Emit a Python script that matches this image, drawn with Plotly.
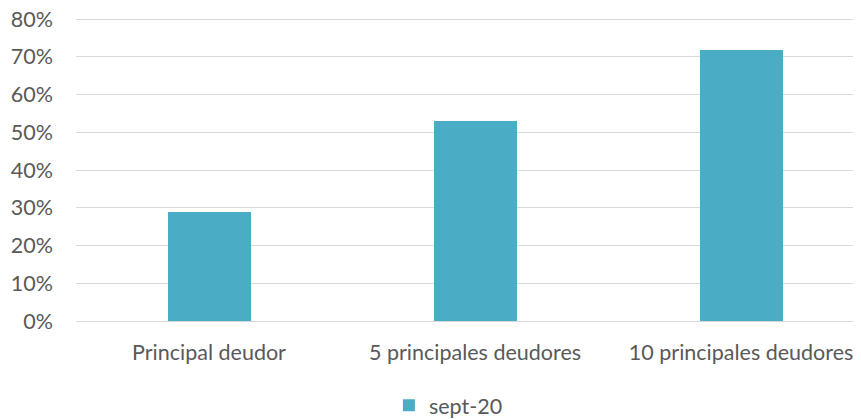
import plotly.graph_objects as go

categories = ["Principal deudor", "5 principales deudores", "10 principales deudores"]
values = [0.29, 0.53, 0.717]
series_name = "sept-20"
tick_vals = [0, 0.1, 0.2, 0.3, 0.4, 0.5, 0.6, 0.7, 0.8]
tick_text = ["0%", "10%", "20%", "30%", "40%", "50%", "60%", "70%", "80%"]

FS = 21.5
fig = go.Figure()
fig.add_trace(go.Bar(
    x=[0, 1, 2], y=values, name=series_name,
    marker=dict(color="#4BACC6", line=dict(width=0)),
    width=0.312, showlegend=True,
))
fig.update_layout(
    width=861, height=419,
    margin=dict(l=68, r=9, t=10, b=106, autoexpand=False),
    paper_bgcolor="white", plot_bgcolor="white",
    font=dict(family="Lato, Carlito, sans-serif", size=FS, color="#595959"),
    bargap=0,
    xaxis=dict(
        tickmode="array", tickvals=[0, 1, 2], ticktext=categories,
        range=[-0.5, 2.447], showgrid=False, showline=False, zeroline=False,
        ticks="", ticklen=0, automargin=False, ticklabelstandoff=16,
        tickfont=dict(size=FS, color="#595959"),
    ),
    yaxis=dict(
        range=[0, 0.8027], tickmode="array", tickvals=tick_vals, ticktext=tick_text,
        showgrid=True, gridcolor="#D9D9D9", gridwidth=1.3,
        zeroline=True, zerolinecolor="#D9D9D9", zerolinewidth=1.3,
        showline=False, ticks="", ticklabelstandoff=22, automargin=False,
        ticklabeloverflow="allow",
        tickfont=dict(size=FS, color="#595959"),
    ),
    legend=dict(
        orientation="h", x=0.475, xanchor="center", y=-0.278, yanchor="middle",
        itemwidth=30, font=dict(size=FS, color="#595959"),
    ),
)
fig.write_html("out.html")
